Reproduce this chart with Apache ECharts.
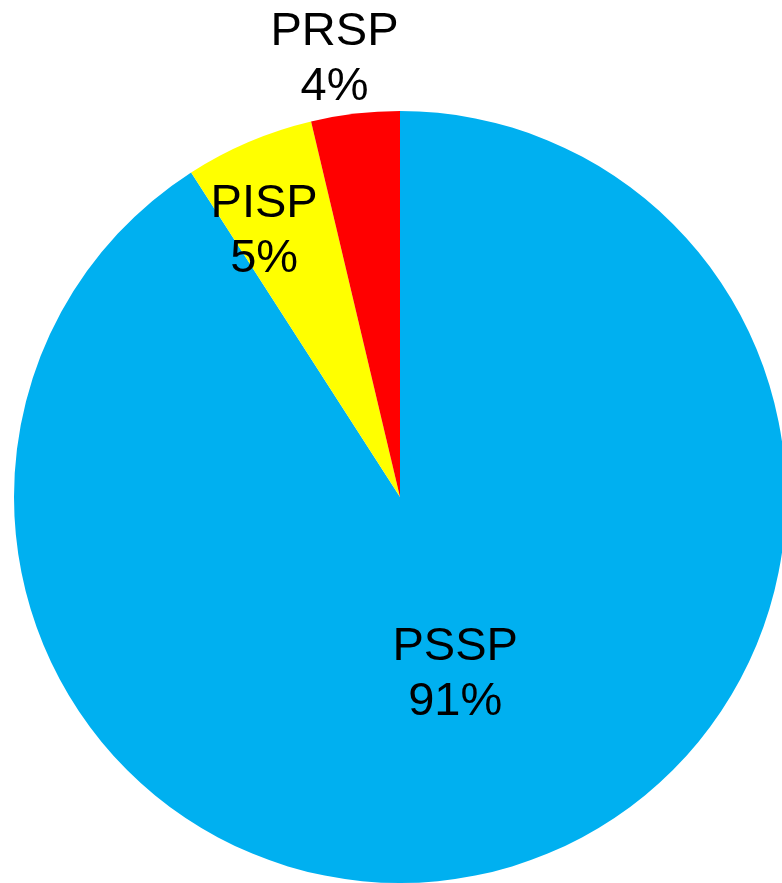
<!DOCTYPE html>
<html>
<head>
<meta charset="utf-8">
<script src="https://cdn.jsdelivr.net/npm/echarts@6/dist/echarts.min.js"></script>
<style>
  html, body { margin: 0; padding: 0; background: #fff; }
  #chart { width: 782px; height: 883px; }
</style>
</head>
<body>
<div id="chart"></div>
<script>
// slices, clockwise from 12 o'clock
const categories = ['PSSP', 'PISP', 'PRSP'];
const shares = [90.9, 5.4, 3.7];
const colors = ['#00B0F0', '#FFFF00', '#FF0000'];

const CX = 400, CY = 497, R = 386;

// where each label sits: fraction of radius along the slice's mid angle, plus a small nudge
const labelPlace = [
  { ratio: 0.47, dx: 4, dy: 3 },
  { ratio: 0.78, dx: -18, dy: 12 },
  { ratio: 1.15, dx: -14, dy: 3 }
];

const total = shares.reduce((a, b) => a + b, 0);
const midAngles = [];
let acc = 0;
shares.forEach(v => {
  midAngles.push((acc + v / 2) / total * 2 * Math.PI);
  acc += v;
});

const chart = echarts.init(document.getElementById('chart'));

chart.setOption({
  animation: false,
  series: [{
    type: 'pie',
    center: [CX, CY],
    radius: [0, R],
    startAngle: 90,
    clockwise: true,
    avoidLabelOverlap: false,
    emphasis: { disabled: true },
    itemStyle: { borderWidth: 0 },
    label: {
      show: true,
      position: 'inside',
      formatter: p => p.name + '\n' + Math.round(p.percent) + '%',
      fontFamily: 'Liberation Sans, Arial, sans-serif',
      fontSize: 47,
      lineHeight: 55,
      color: '#000'
    },
    labelLine: { show: false },
    labelLayout: params => {
      const i = params.dataIndex;
      const a = midAngles[i];
      const pl = labelPlace[i];
      return {
        x: CX + Math.sin(a) * R * pl.ratio + pl.dx,
        y: CY - Math.cos(a) * R * pl.ratio + pl.dy,
        align: 'center',
        verticalAlign: 'middle'
      };
    },
    data: categories.map((name, i) => ({
      name: name,
      value: shares[i],
      itemStyle: { color: colors[i] },
      label: i === 2 ? { position: 'outside' } : {}
    }))
  }]
});

window.addEventListener('resize', () => chart.resize());
</script>
</body>
</html>
